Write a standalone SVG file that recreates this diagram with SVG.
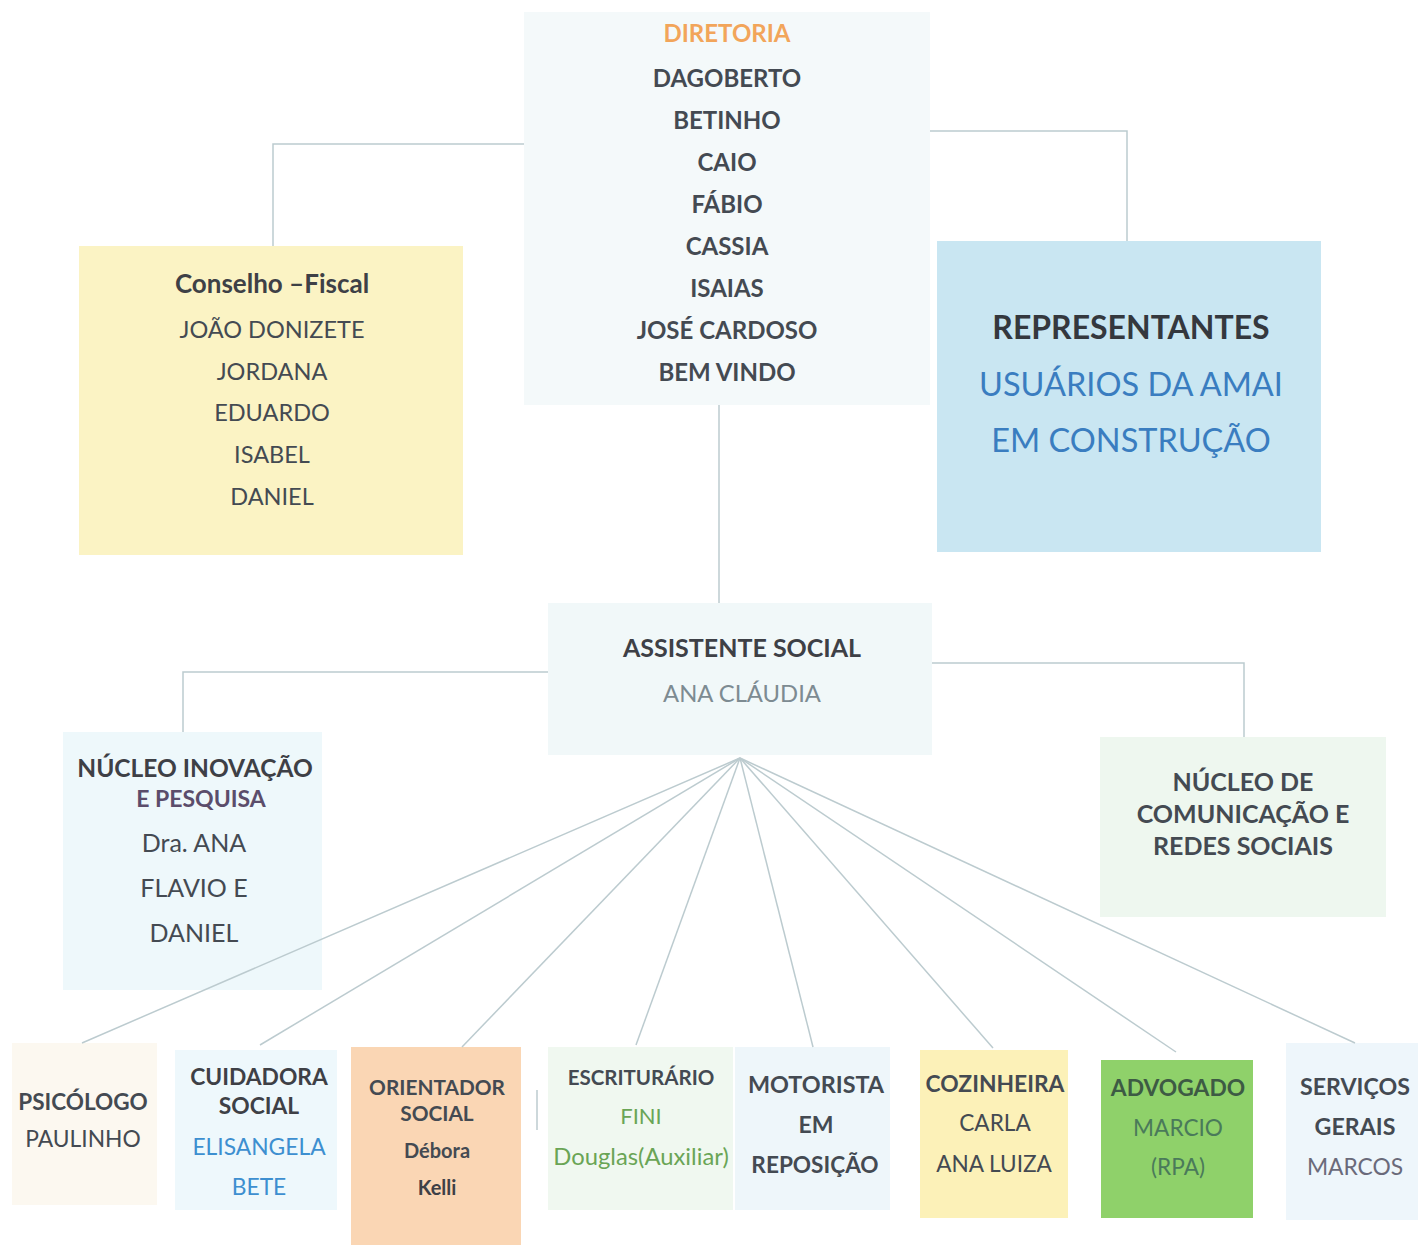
<svg xmlns="http://www.w3.org/2000/svg" width="1418" height="1245" viewBox="0 0 1418 1245">
<style>
text { font-family: Lato, "Open Sans", "Liberation Sans", sans-serif; text-anchor: middle; fill: #444a52; }
.b { font-weight: bold; }
.con { fill: none; stroke: #bccbcf; stroke-width: 1.5; }
</style>
<rect width="1418" height="1245" fill="#ffffff"/>
<g id="diretoria">
  <rect x="524" y="12" width="406" height="393" fill="#f4f9fa"/>
  <text x="727" y="42" font-size="24" class="b" style="fill:#f2a55a">DIRETORIA</text>
  <text x="727" y="87" font-size="24" class="b">DAGOBERTO</text>
  <text x="727" y="129" font-size="24" class="b">BETINHO</text>
  <text x="727" y="171" font-size="24" class="b">CAIO</text>
  <text x="727" y="213" font-size="24" class="b">FÁBIO</text>
  <text x="727" y="255" font-size="24" class="b">CASSIA</text>
  <text x="727" y="297" font-size="24" class="b">ISAIAS</text>
  <text x="727" y="339" font-size="24" class="b">JOSÉ CARDOSO</text>
  <text x="727" y="381" font-size="24" class="b">BEM VINDO</text>
</g>
<g id="conselho">
  <rect x="79" y="246" width="384" height="309" fill="#fbf3c4"/>
  <text x="272" y="293" font-size="26" class="b" style="fill:#3e4046">Conselho –Fiscal</text>
  <text x="272" y="338" font-size="23.5">JOÃO DONIZETE</text>
  <text x="272" y="380" font-size="23.5">JORDANA</text>
  <text x="272" y="421" font-size="23.5">EDUARDO</text>
  <text x="272" y="463" font-size="23.5">ISABEL</text>
  <text x="272" y="505" font-size="23.5">DANIEL</text>
</g>
<g id="representantes">
  <rect x="937" y="241" width="384" height="311" fill="#c9e6f2"/>
  <text x="1131" y="339" font-size="32" class="b" style="fill:#34383e">REPRESENTANTES</text>
  <text x="1131" y="396" font-size="32.5" style="fill:#3a7dc0">USUÁRIOS DA AMAI</text>
  <text x="1131" y="452" font-size="32.5" style="fill:#3a7dc0">EM CONSTRUÇÃO</text>
</g>
<g id="assistente">
  <rect x="548" y="603" width="384" height="152" fill="#f1f8f9"/>
  <text x="742" y="657" font-size="25" class="b" style="fill:#3e4046">ASSISTENTE SOCIAL</text>
  <text x="742" y="702" font-size="23.8" style="fill:#7d8b92">ANA CLÁUDIA</text>
</g>
<g id="nucleo-inovacao">
  <rect x="63" y="732" width="259" height="258" fill="#eef8fb"/>
  <text x="195" y="777" font-size="24.5" class="b" style="fill:#3e4046">NÚCLEO INOVAÇÃO</text>
  <text x="201" y="807" font-size="23" class="b" style="fill:#5b4d6b">E PESQUISA</text>
  <text x="194" y="852" font-size="25">Dra. ANA</text>
  <text x="194" y="897" font-size="25">FLAVIO E</text>
  <text x="194" y="942" font-size="25">DANIEL</text>
</g>
<g id="nucleo-comunicacao">
  <rect x="1100" y="737" width="286" height="180" fill="#eef7ef"/>
  <text x="1243" y="791" font-size="25" class="b">NÚCLEO DE</text>
  <text x="1243" y="823" font-size="25" class="b">COMUNICAÇÃO E</text>
  <text x="1243" y="855" font-size="25" class="b">REDES SOCIAIS</text>
</g>
<g id="psicologo">
  <rect x="12" y="1043" width="145" height="162" fill="#fcf8f0"/>
  <text x="83" y="1110" font-size="22.5" class="b">PSICÓLOGO</text>
  <text x="83" y="1147" font-size="22.8">PAULINHO</text>
</g>
<g id="cuidadora">
  <rect x="175" y="1050" width="162" height="160" fill="#eef8fc"/>
  <text x="259" y="1085" font-size="22.8" class="b" style="fill:#3e4046">CUIDADORA</text>
  <text x="259" y="1114" font-size="22.8" class="b" style="fill:#3e4046">SOCIAL</text>
  <text x="259" y="1155" font-size="22.8" style="fill:#3d8fd0">ELISANGELA</text>
  <text x="259" y="1195" font-size="22.8" style="fill:#3d8fd0">BETE</text>
</g>
<g id="orientador">
  <rect x="351" y="1047" width="170" height="198" fill="#fad6b4"/>
  <text x="437" y="1095" font-size="20.8" class="b">ORIENTADOR</text>
  <text x="437" y="1121" font-size="20.8" class="b">SOCIAL</text>
  <text x="437" y="1158" font-size="20" class="b">Débora</text>
  <text x="437" y="1195" font-size="20" class="b" style="fill:#3e4046">Kelli</text>
</g>
<g id="escriturario">
  <rect x="548" y="1047" width="185" height="163" fill="#f0f8f0"/>
  <text x="641" y="1085" font-size="20.5" class="b">ESCRITURÁRIO</text>
  <text x="641" y="1124" font-size="22" style="fill:#6aa556">FINI</text>
  <text x="641" y="1165" font-size="23.8" style="fill:#6aa556">Douglas(Auxiliar)</text>
</g>
<g id="motorista">
  <rect x="735" y="1047" width="155" height="163" fill="#eef6fa"/>
  <text x="816" y="1093" font-size="23.4" class="b">MOTORISTA</text>
  <text x="816" y="1133" font-size="23" class="b">EM</text>
  <text x="815" y="1173" font-size="22.6" class="b">REPOSIÇÃO</text>
</g>
<g id="cozinheira">
  <rect x="920" y="1050" width="148" height="168" fill="#fcf1b8"/>
  <text x="995" y="1092" font-size="22.8" class="b">COZINHEIRA</text>
  <text x="995" y="1131" font-size="22.6">CARLA</text>
  <text x="994" y="1172" font-size="22.6">ANA LUIZA</text>
</g>
<g id="advogado">
  <rect x="1101" y="1060" width="152" height="158" fill="#8fd16a"/>
  <text x="1178" y="1096" font-size="22.8" class="b" style="fill:#3d5a44">ADVOGADO</text>
  <text x="1178" y="1136" font-size="22.6" style="fill:#4a7a5a">MARCIO</text>
  <text x="1178" y="1175" font-size="22.6" style="fill:#4a7a5a">(RPA)</text>
</g>
<g id="servicos">
  <rect x="1286" y="1043" width="132" height="177" fill="#eef6fb"/>
  <text x="1355" y="1095" font-size="23.2" class="b">SERVIÇOS</text>
  <text x="1355" y="1135" font-size="23.2" class="b">GERAIS</text>
  <text x="1355" y="1175" font-size="22.8" style="fill:#6a6a7a">MARCOS</text>
</g>
<g id="connectors">
  <polyline class="con" points="524,144 273,144 273,246"/>
  <polyline class="con" points="930,131 1127,131 1127,241"/>
  <line class="con" x1="719" y1="405" x2="719" y2="603"/>
  <polyline class="con" points="548,672 183,672 183,732"/>
  <polyline class="con" points="932,663 1244,663 1244,737"/>
  <line class="con" x1="740" y1="758" x2="82" y2="1043"/>
  <line class="con" x1="740" y1="758" x2="260" y2="1045"/>
  <line class="con" x1="740" y1="758" x2="462" y2="1047"/>
  <line class="con" x1="740" y1="758" x2="636" y2="1045"/>
  <line class="con" x1="740" y1="758" x2="813" y2="1047"/>
  <line class="con" x1="740" y1="758" x2="993" y2="1048"/>
  <line class="con" x1="740" y1="758" x2="1176" y2="1052"/>
  <line class="con" x1="740" y1="758" x2="1355" y2="1043"/>
  <line class="con" x1="537" y1="1090" x2="537" y2="1130"/>
</g>
</svg>
